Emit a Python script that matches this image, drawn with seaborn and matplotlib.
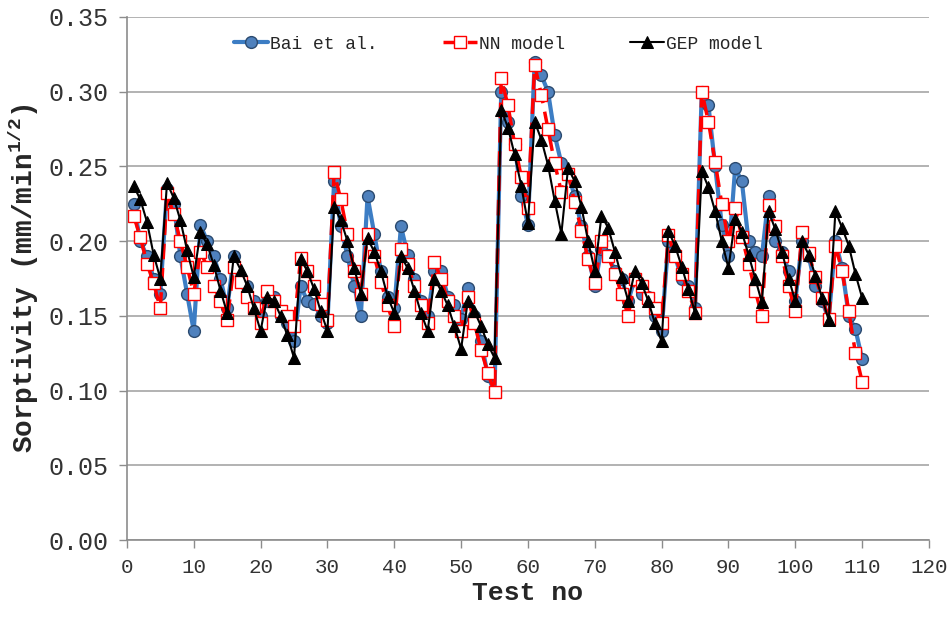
import numpy as np
import pandas as pd
import matplotlib
matplotlib.use("Agg")
import matplotlib.pyplot as plt
import seaborn as sns

test_no = list(range(1, 111))

bai = [0.225, 0.200, 0.190, 0.175, 0.165, 0.235, 0.225, 0.190, 0.165, 0.140,
       0.211, 0.200, 0.190, 0.175, 0.155, 0.190, 0.175, 0.170, 0.160, 0.150,
       0.160, 0.163, 0.150, 0.145, 0.133, 0.170, 0.160, 0.158, 0.150, 0.145,
       0.240, 0.210, 0.190, 0.170, 0.150, 0.230, 0.205, 0.180, 0.163, 0.155,
       0.210, 0.191, 0.175, 0.160, 0.150, 0.180, 0.180, 0.163, 0.157, 0.148,
       0.169, 0.150, 0.133, 0.110, 0.099, 0.300, 0.280, 0.265, 0.230, 0.211,
       0.320, 0.311, 0.300, 0.271, 0.252, 0.245, 0.230, 0.210, 0.190, 0.170,
       0.195, 0.191, 0.180, 0.175, 0.160, 0.175, 0.165, 0.163, 0.150, 0.140,
       0.200, 0.190, 0.175, 0.170, 0.155, 0.300, 0.291, 0.250, 0.211, 0.190,
       0.249, 0.240, 0.200, 0.193, 0.190, 0.230, 0.200, 0.193, 0.180, 0.160,
       0.200, 0.190, 0.170, 0.160, 0.148, 0.200, 0.182, 0.150, 0.141, 0.121]

nn = [0.217, 0.203, 0.185, 0.172, 0.155, 0.232, 0.218, 0.200, 0.183, 0.165,
      0.193, 0.183, 0.170, 0.160, 0.147, 0.183, 0.173, 0.163, 0.155, 0.145,
      0.167, 0.160, 0.153, 0.150, 0.143, 0.189, 0.180, 0.170, 0.158, 0.147,
      0.246, 0.228, 0.205, 0.180, 0.165, 0.205, 0.190, 0.173, 0.157, 0.143,
      0.195, 0.185, 0.170, 0.157, 0.145, 0.186, 0.175, 0.160, 0.150, 0.140,
      0.163, 0.145, 0.127, 0.112, 0.099, 0.309, 0.291, 0.265, 0.243, 0.222,
      0.318, 0.298, 0.275, 0.252, 0.233, 0.245, 0.226, 0.207, 0.188, 0.172,
      0.200, 0.190, 0.178, 0.165, 0.150, 0.175, 0.170, 0.162, 0.155, 0.145,
      0.204, 0.190, 0.178, 0.167, 0.152, 0.300, 0.280, 0.253, 0.225, 0.200,
      0.222, 0.203, 0.185, 0.167, 0.150, 0.224, 0.210, 0.190, 0.170, 0.153,
      0.206, 0.192, 0.176, 0.162, 0.148, 0.197, 0.180, 0.153, 0.125, 0.106]

gep = [0.237, 0.228, 0.213, 0.191, 0.175, 0.239, 0.229, 0.214, 0.194, 0.176,
       0.206, 0.198, 0.184, 0.167, 0.152, 0.190, 0.181, 0.170, 0.155, 0.140,
       0.163, 0.160, 0.150, 0.137, 0.122, 0.188, 0.180, 0.168, 0.153, 0.140,
       0.223, 0.214, 0.200, 0.182, 0.165, 0.202, 0.193, 0.180, 0.163, 0.152,
       0.190, 0.182, 0.167, 0.152, 0.140, 0.175, 0.167, 0.157, 0.143, 0.128,
       0.160, 0.153, 0.143, 0.131, 0.122, 0.288, 0.276, 0.258, 0.237, 0.212,
       0.280, 0.268, 0.251, 0.227, 0.205, 0.249, 0.240, 0.223, 0.200, 0.180,
       0.217, 0.209, 0.193, 0.176, 0.160, 0.180, 0.172, 0.160, 0.145, 0.133,
       0.207, 0.197, 0.183, 0.168, 0.152, 0.247, 0.236, 0.220, 0.200, 0.182,
       0.215, 0.206, 0.191, 0.175, 0.159, 0.220, 0.208, 0.193, 0.175, 0.160,
       0.200, 0.191, 0.177, 0.162, 0.147, 0.220, 0.209, 0.197, 0.178, 0.162]

x_ticks = list(range(0, 121, 10))
y_ticks = [0.00, 0.05, 0.10, 0.15, 0.20, 0.25, 0.30, 0.35]

sns.set_theme(style="white")
plt.rcParams['font.family'] = ['Liberation Mono', 'DejaVu Sans Mono']
plt.rcParams['mathtext.fontset'] = 'custom'
plt.rcParams['mathtext.rm'] = 'Liberation Mono'
plt.rcParams['mathtext.bf'] = 'Liberation Mono:bold'

fig = plt.figure(figsize=(9.47, 6.26), dpi=100)
ax = fig.add_axes([0.134, 0.137, 0.847, 0.836])

df = pd.DataFrame({"Test no": test_no, "Bai": bai, "NN": nn, "GEP": gep})

sns.lineplot(data=df, x="Test no", y="Bai", ax=ax, color="#3C7DC4", lw=3.0,
             marker="o", markersize=8.5, markerfacecolor="#4F81BD",
             markeredgecolor="#2B4A6F", markeredgewidth=1.0, label="Bai et al.")
sns.lineplot(data=df, x="Test no", y="NN", ax=ax, color="#FF0000", lw=2.5,
             linestyle=(0, (4.5, 2.5)), marker="s", markersize=8,
             markerfacecolor="white", markeredgecolor="#FF0000",
             markeredgewidth=1.0, label="NN model")
sns.lineplot(data=df, x="Test no", y="GEP", ax=ax, color="black", lw=1.5,
             marker="^", markersize=8.5, markerfacecolor="black",
             markeredgecolor="black", label="GEP model")

ax.set_xlim(0, 120)
ax.set_ylim(0, 0.35)
ax.set_xticks(x_ticks)
ax.set_yticks(y_ticks)
ax.set_yticklabels([f"{v:.2f}" for v in y_ticks], fontsize=18, color="#333333")
ax.set_xticklabels([str(v) for v in x_ticks], fontsize=15, color="#333333")
ax.yaxis.grid(True, color="#A6A6A6", lw=1.2)
ax.xaxis.grid(False)
for s in ["top", "right"]:
    ax.spines[s].set_visible(False)
for s in ["left", "bottom"]:
    ax.spines[s].set_color("#8C8C8C")
    ax.spines[s].set_linewidth(1.2)
ax.tick_params(axis="both", direction="out", length=6, width=1, color="#8C8C8C",
               bottom=True, left=True, pad=7)

ax.set_xlabel("Test no", fontsize=19, fontweight="bold", labelpad=3)
ax.set_ylabel(r"Sorptivity (mm/min$^{\mathbf{1/2}}$)", fontsize=20,
              fontweight="bold", labelpad=6)

leg = ax.legend(loc="center", bbox_to_anchor=(0.463, 0.948), ncol=3,
                frameon=False, fontsize=13, handlelength=1.9, handletextpad=0.1,
                columnspacing=3.6)

fig.savefig("out.png", dpi=100)
